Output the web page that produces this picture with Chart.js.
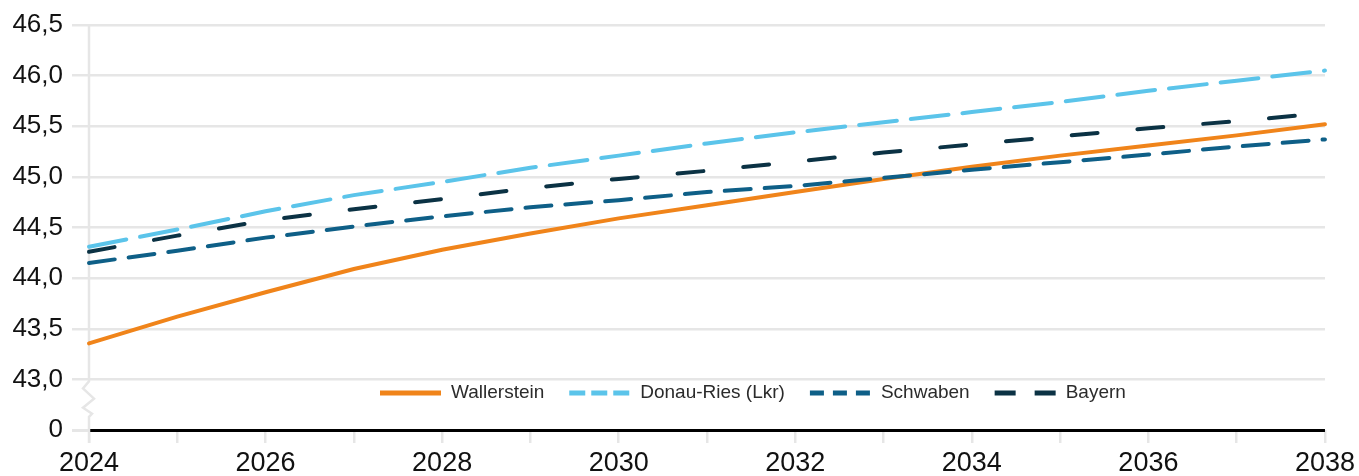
<!DOCTYPE html>
<html>
<head>
<meta charset="utf-8">
<script src="https://cdn.jsdelivr.net/npm/chart.js@4.4.1/dist/chart.umd.min.js"></script>
<style>
    html, body { margin: 0; padding: 0; background: #fff; }
    #wrap { width: 1359px; height: 476px; }
</style>
</head>
<body>
<div id="wrap"><canvas id="chart"></canvas></div>
<script>
const years = ['2024', '2025', '2026', '2027', '2028', '2029', '2030', '2031', '2032', '2033', '2034', '2035', '2036', '2037', '2038'];

const wallerstein = [43.355, 43.62, 43.86, 44.09, 44.28, 44.44, 44.59, 44.72, 44.85, 44.98, 45.10, 45.21, 45.31, 45.41, 45.52];
const donauRies   = [44.31, 44.48, 44.66, 44.82, 44.95, 45.09, 45.21, 45.33, 45.44, 45.54, 45.64, 45.74, 45.85, 45.95, 46.05];
const schwaben    = [44.15, 44.27, 44.40, 44.51, 44.61, 44.70, 44.77, 44.85, 44.91, 44.99, 45.07, 45.145, 45.22, 45.30, 45.37];
const bayern      = [44.26, 44.42, 44.57, 44.68, 44.78, 44.89, 44.98, 45.06, 45.15, 45.24, 45.32, 45.40, 45.48, 45.55, 45.63];

// the lowest tick stands for 0 (broken axis)
const yTickValues = [42.5, 43.0, 43.5, 44.0, 44.5, 45.0, 45.5, 46.0, 46.5];
const yTickLabels = ['0', '43,0', '43,5', '44,0', '44,5', '45,0', '45,5', '46,0', '46,5'];

const GRID = '#e6e6e6';
const FONT = "'Liberation Sans', Arial, sans-serif";

const series = [
    { label: 'Wallerstein', data: wallerstein, color: '#f0841a', dash: [], legendDash: [], order: 1 },
    { label: 'Donau-Ries (Lkr)', data: donauRies, color: '#5bc4ea', dash: [38, 14], legendDash: [16, 6], order: 3 },
    { label: 'Schwaben', data: schwaben, color: '#0e5f87', dash: [26, 14], legendDash: [14, 9], order: 0 },
    { label: 'Bayern', data: bayern, color: '#0b3244', dash: [26, 40], legendDash: [21, 19], order: 2 }
];

// y axis line with the zigzag break between 0 and 43,0
const axisBreak = {
    id: 'axisBreak',
    beforeDatasetsDraw(chart) {
        const { ctx, chartArea, scales } = chart;
        const x = chartArea.left;
        const yTop = chartArea.top;
        const y43 = scales.y.getPixelForValue(43.0);
        const y0 = scales.y.getPixelForValue(42.5);
        const h = y0 - y43;
        ctx.save();
        ctx.strokeStyle = GRID;
        ctx.lineWidth = 2.5;
        ctx.beginPath();
        ctx.moveTo(x, yTop);
        ctx.lineTo(x, y43 + h * 0.04);
        ctx.lineTo(x - 6, y43 + h * 0.18);
        ctx.lineTo(x + 5, y43 + h * 0.38);
        ctx.lineTo(x - 6, y43 + h * 0.56);
        ctx.lineTo(x + 3, y43 + h * 0.68);
        ctx.lineTo(x, y43 + h * 0.74);
        ctx.lineTo(x, y0 + 13);
        ctx.stroke();
        ctx.restore();
    }
};

const legendInside = {
    id: 'legendInside',
    afterDraw(chart) {
        const { ctx } = chart;
        const y = 393;
        let x = 380;
        ctx.save();
        ctx.font = '19px ' + FONT;
        ctx.textBaseline = 'middle';
        series.forEach(s => {
            ctx.strokeStyle = s.color;
            ctx.lineWidth = 5;
            ctx.lineCap = 'butt';
            ctx.setLineDash(s.legendDash);
            ctx.beginPath();
            ctx.moveTo(x, y);
            ctx.lineTo(x + 61, y);
            ctx.stroke();
            ctx.setLineDash([]);
            x += 71;
            ctx.fillStyle = '#2b2b2b';
            ctx.fillText(s.label, x, y);
            x += ctx.measureText(s.label).width + 25;
        });
        ctx.restore();
    }
};

new Chart(document.getElementById('chart'), {
    type: 'line',
    data: {
        labels: years,
        datasets: series.map(s => ({
            label: s.label,
            data: s.data,
            borderColor: s.color,
            backgroundColor: s.color,
            borderWidth: 4,
            borderDash: s.dash,
            borderCapStyle: 'round',
            pointRadius: 0,
            tension: 0,
            order: s.order,
            clip: false
        }))
    },
    options: {
        responsive: true,
        maintainAspectRatio: false,
        animation: false,
        layout: { padding: { left: 0, right: 34, top: 25, bottom: 0 } },
        plugins: {
            legend: { display: false },
            tooltip: { enabled: false }
        },
        scales: {
            x: {
                type: 'category',
                offset: false,
                border: { display: false },
                grid: {
                    drawOnChartArea: false,
                    drawTicks: true,
                    tickLength: 13,
                    color: GRID,
                    lineWidth: 2.5
                },
                ticks: {
                    autoSkip: false,
                    maxRotation: 0,
                    padding: 4,
                    color: '#111',
                    font: { family: FONT, size: 27 },
                    callback: function (val, i) {
                        return i % 2 === 0 ? years[i] : '';
                    }
                },
                afterFit(scale) { scale.height = 46; }
            },
            y: {
                min: 42.5,
                max: 46.5,
                border: { display: false },
                afterBuildTicks(scale) {
                    scale.ticks = yTickValues.map(v => ({ value: v }));
                },
                grid: {
                    tickLength: 17,
                    tickColor: GRID,
                    color: ctx => ctx.tick && ctx.tick.value === 42.5 ? '#000' : GRID,
                    lineWidth: ctx => ctx.tick && ctx.tick.value === 42.5 ? 3 : 2.5
                },
                ticks: {
                    padding: 9,
                    color: '#111',
                    font: { family: FONT, size: 26 },
                    callback: function (val, i) {
                        return yTickLabels[i];
                    }
                },
                afterFit(scale) { scale.width = 89; }
            }
        }
    },
    plugins: [axisBreak, legendInside]
});
</script>
</body>
</html>
